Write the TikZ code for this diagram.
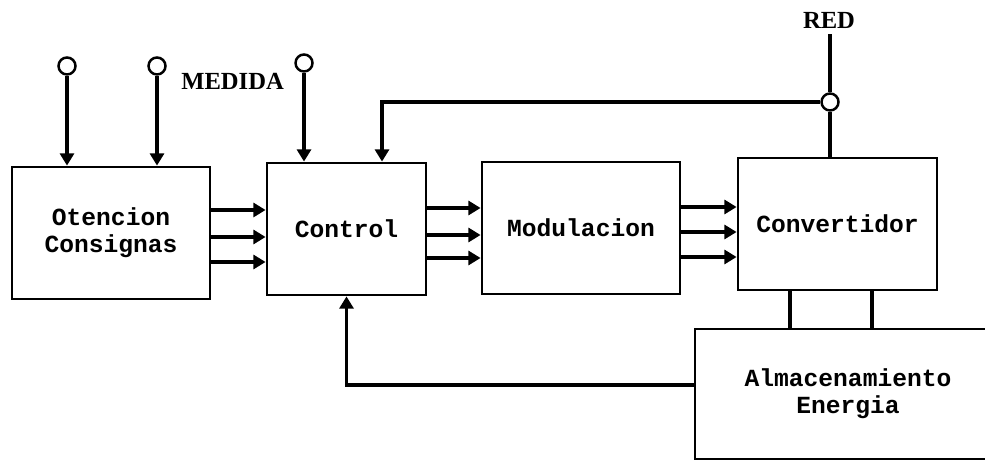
\documentclass[tikz,border=0pt]{standalone}
\usepackage{fontspec}
\setmainfont{Liberation Serif}
\newfontfamily\blkfont{Liberation Mono}
\usetikzlibrary{positioning, arrows.meta}

\begin{document}
\begin{tikzpicture}[
  blk/.style={draw, line width=1.6pt, inner sep=0pt, align=center, font=\blkfont\bfseries\fontsize{14}{15.5}\selectfont},
  sig/.style={line width=2.2pt, -{Triangle[length=7pt, width=8pt]}},
  wire/.style={line width=2.2pt},
  pin/.style={draw, circle, line width=1.4pt, fill=white, inner sep=0pt, minimum size=0.34cm},
  lbl/.style={font=\bfseries\fontsize{14}{14}\selectfont}]
\useasboundingbox (0,0) rectangle (19.7,9.24);

% Blocks
\node[blk, minimum width=3.96cm, minimum height=2.64cm] (otc) at (2.22,4.58) {Otencion\\Consignas};
\node[blk, minimum width=3.18cm, minimum height=2.64cm] (ctl) at (6.93,4.66) {Control};
\node[blk, minimum width=3.96cm, minimum height=2.64cm] (mod) at (11.62,4.68) {Modulacion};
\node[blk, minimum width=3.98cm, minimum height=2.64cm] (cnv) at (16.75,4.76) {Convertidor};
\node[blk, minimum width=6.12cm, minimum height=2.6cm] (alm) at (16.96,1.36) {Almacenamiento\\Energia};

% Bus arrows
\foreach \d in {0.46,-0.08,-0.58}
  \draw[sig] ([yshift=\d cm]otc.east) -- ([yshift=\d cm]otc.east -| ctl.west);
\foreach \d in {0.42,-0.12,-0.58}
  \draw[sig] ([yshift=\d cm]ctl.east) -- ([yshift=\d cm]ctl.east -| mod.west);
\foreach \d in {0.42,-0.08,-0.58}
  \draw[sig] ([yshift=\d cm]mod.east) -- ([yshift=\d cm]mod.east -| cnv.west);

% Inputs
\node[pin] (c1) at (1.34,7.92) {};
\node[pin] (c2) at (3.14,7.92) {};
\node[pin] (c3) at (6.08,7.98) {};
\node[lbl, anchor=east] (medida) at (5.8,7.62) {MEDIDA};
\draw[sig] (c1.south) -- (c1.south |- otc.north);
\draw[sig] (c2.south) -- (c2.south |- otc.north);
\draw[sig] (c3.south) -- (c3.south |- ctl.north);

% Red
\node[lbl] (red) at (16.58,8.84) {RED};
\node[pin] (rc) at (16.6,7.2) {};
\coordinate (fbk) at (7.64,7.2);
\draw[wire] (red.south -| rc.north) -- (rc.north);
\draw[wire] (rc.south) -- (rc.south |- cnv.north);
\draw[sig] (rc.west) -- (fbk) -- (fbk |- ctl.north);

% Almacenamiento
\draw[wire] ([xshift=-0.95cm]cnv.south) -- ([xshift=-0.95cm]cnv.south |- alm.north);
\draw[wire] ([xshift=0.69cm]cnv.south) -- ([xshift=0.69cm]cnv.south |- alm.north);
\draw[sig] ([yshift=0.18cm]alm.west) -| (ctl.south);
\end{tikzpicture}
\end{document}
